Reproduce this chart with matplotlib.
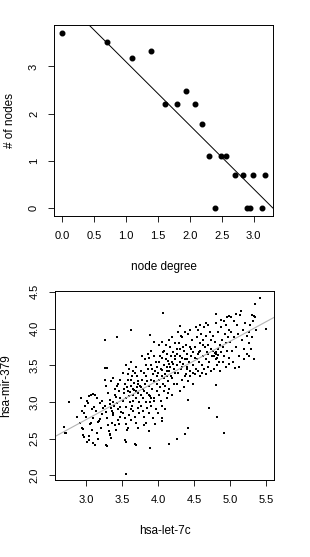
import numpy as np
import matplotlib
matplotlib.use('Agg')
import matplotlib.pyplot as plt

plt.rcParams['font.family'] = ['Liberation Sans', 'DejaVu Sans']

# ---- top panel: degree distribution (log-log, natural log) ----
node_degree = [1, 2, 3, 4, 5, 6, 7, 8, 9, 10, 11, 12, 13, 15, 17, 18, 19, 20, 23, 24]
node_count = [41, 34, 24, 28, 9, 9, 12, 9, 6, 3, 1, 3, 3, 2, 2, 1, 1, 2, 1, 2]

# ---- bottom panel: expression of hsa-let-7c vs hsa-mir-379 ----
let7c = [
    2.70, 2.72, 2.76, 2.87, 2.93, 2.96, 2.95, 2.98, 2.97, 2.99, 2.92,
    3.01, 3.03, 3.05, 3.07, 3.10, 3.12, 3.02, 3.04, 3.06, 3.09, 3.11, 3.14, 3.16, 3.18, 3.20, 3.22,
    3.00, 3.13, 3.05, 3.08, 3.15, 3.19, 3.23, 3.24, 3.21, 3.17, 3.10,
    3.27, 3.28, 3.30, 3.31, 3.33, 3.34, 3.35, 3.36, 3.37, 3.38, 3.39, 3.40, 3.41, 3.42, 3.43, 3.44,
    3.45, 3.46, 3.47, 3.48, 3.49, 3.29, 3.32, 3.34, 3.36, 3.38, 3.40, 3.42, 3.44, 3.46, 3.48, 3.30,
    3.33, 3.35, 3.38, 3.43, 3.47, 3.26, 3.28, 3.31,
    3.51, 3.52, 3.53, 3.54, 3.55, 3.56, 3.57, 3.58, 3.59, 3.60, 3.61, 3.62, 3.63, 3.64, 3.65, 3.66,
    3.67, 3.68, 3.69, 3.70, 3.71, 3.72, 3.73, 3.74, 3.52, 3.54, 3.56, 3.58, 3.60, 3.62, 3.64, 3.66,
    3.68, 3.70, 3.72, 3.74, 3.55, 3.60, 3.65, 3.70, 3.55, 3.57, 3.69, 3.72, 3.63, 3.58, 3.62, 3.66,
    3.71, 3.73, 3.53, 3.61, 3.67, 3.75,
    3.76, 3.77, 3.78, 3.79, 3.80, 3.81, 3.82, 3.83, 3.84, 3.85, 3.86, 3.87, 3.88, 3.89, 3.90, 3.91,
    3.92, 3.93, 3.94, 3.95, 3.96, 3.97, 3.98, 3.99, 3.77, 3.79, 3.81, 3.83, 3.85, 3.87, 3.89, 3.91,
    3.93, 3.95, 3.97, 3.78, 3.82, 3.86, 3.90, 3.94, 3.98, 3.80, 3.88, 3.96, 3.84, 3.92, 3.76, 3.99,
    3.79, 3.87, 3.91, 3.85,
    4.00, 4.01, 4.02, 4.03, 4.04, 4.05, 4.06, 4.07, 4.08, 4.09, 4.10, 4.11, 4.12, 4.13, 4.14, 4.15,
    4.16, 4.17, 4.18, 4.19, 4.20, 4.21, 4.22, 4.23, 4.24, 4.02, 4.04, 4.06, 4.08, 4.10, 4.12, 4.14,
    4.16, 4.18, 4.20, 4.22, 4.24, 4.01, 4.05, 4.11, 4.15, 4.19, 4.03, 4.07, 4.13, 4.17, 4.21, 4.09,
    4.23, 4.00, 4.05, 4.10, 4.06, 4.14, 4.12,
    4.26, 4.27, 4.28, 4.29, 4.30, 4.31, 4.32, 4.33, 4.34, 4.35, 4.36, 4.37, 4.38, 4.39, 4.40, 4.41,
    4.42, 4.43, 4.44, 4.45, 4.46, 4.47, 4.48, 4.49, 4.27, 4.30, 4.33, 4.36, 4.39, 4.42, 4.45, 4.48,
    4.28, 4.32, 4.38, 4.44, 4.31, 4.35, 4.40, 4.46, 4.26, 4.49, 4.34, 4.41,
    4.51, 4.52, 4.53, 4.54, 4.55, 4.56, 4.57, 4.58, 4.59, 4.60, 4.61, 4.62, 4.63, 4.64, 4.65, 4.66,
    4.67, 4.68, 4.69, 4.70, 4.71, 4.72, 4.73, 4.74, 4.52, 4.55, 4.58, 4.61, 4.64, 4.67, 4.70, 4.73,
    4.53, 4.59, 4.66, 4.57, 4.63, 4.69, 4.54, 4.75,
    4.76, 4.77, 4.78, 4.79, 4.80, 4.81, 4.82, 4.83, 4.84, 4.85, 4.86, 4.87, 4.88, 4.89, 4.90, 4.91,
    4.92, 4.93, 4.94, 4.95, 4.96, 4.97, 4.98, 4.99, 4.78, 4.82, 4.86, 4.90, 4.94, 4.98, 4.80, 4.88,
    4.96, 4.81, 4.83, 4.79,
    5.00, 5.02, 5.03, 5.05, 5.06, 5.08, 5.10, 5.11, 5.13, 5.14, 5.16, 5.18, 5.19, 5.21, 5.23, 5.24,
    5.04, 5.12, 5.20, 5.01, 5.09, 5.07,
    5.26, 5.27, 5.28, 5.29, 5.30, 5.32, 5.33, 5.34, 5.36, 5.27, 5.31,
    5.41, 5.34, 4.07, 4.81, 5.15, 5.33, 4.98, 5.50, 3.62, 3.43, 3.27, 3.89, 3.94, 4.31,
    2.76, 2.69, 2.71, 2.87, 3.55, 3.89, 3.68, 4.16, 4.26, 4.38, 4.42, 4.42, 4.71, 4.82, 4.91, 4.81,
    4.05, 3.54, 3.27, 3.10, 3.02, 2.96, 3.28, 3.32, 3.35, 3.15, 2.94, 3.07, 3.17,
]
mir379 = [
    2.66, 2.58, 3.00, 2.80, 3.06, 2.63, 2.88, 2.85, 2.52, 2.95, 2.72,
    3.02, 2.98, 3.08, 3.10, 3.11, 3.09, 2.45, 2.48, 2.70, 2.90, 2.93, 2.88, 2.58, 2.74, 2.77, 2.83,
    2.80, 2.41, 2.53, 2.62, 3.05, 2.98, 3.02, 2.92, 2.65, 2.50, 2.78,
    3.30, 3.22, 3.46, 3.12, 3.03, 2.97, 2.92, 2.88, 2.85, 3.00, 2.95, 3.10, 3.18, 3.07, 2.99, 2.90,
    3.25, 3.15, 3.05, 2.93, 2.87, 2.78, 2.60, 2.57, 2.72, 2.82, 2.68, 2.62, 2.75, 2.70, 2.80, 2.40,
    2.55, 3.28, 3.33, 3.22, 3.30, 2.95, 2.86, 2.68,
    3.40, 3.02, 3.12, 3.25, 2.93, 3.05, 3.20, 3.30, 3.15, 3.08, 3.00, 2.90, 3.22, 3.35, 3.18, 3.10,
    3.26, 3.40, 3.05, 3.15, 3.20, 3.28, 3.12, 3.00, 2.85, 2.78, 2.70, 2.65, 2.82, 2.75, 2.95, 2.88,
    2.80, 2.72, 2.92, 2.85, 3.50, 3.45, 3.42, 3.48, 2.45, 2.62, 2.42, 2.65, 3.55, 3.38, 3.30, 3.02,
    3.35, 3.25, 3.18, 3.13, 3.16, 3.22,
    3.10, 3.20, 3.30, 3.05, 3.15, 3.40, 3.25, 3.00, 3.35, 3.12, 3.45, 3.60, 3.22, 3.08, 3.30, 3.50,
    3.18, 3.38, 3.02, 3.28, 3.42, 3.55, 3.15, 3.35, 2.95, 2.88, 2.80, 2.72, 2.92, 2.85, 3.00, 2.95,
    2.78, 3.05, 2.90, 3.62, 3.58, 3.65, 3.70, 3.62, 3.48, 2.68, 2.60, 2.70, 3.50, 3.45, 3.42, 3.25,
    3.18, 3.10, 3.06, 3.28,
    3.40, 3.30, 3.55, 3.20, 3.45, 3.35, 3.60, 3.25, 3.50, 3.70, 3.38, 3.58, 3.48, 3.65, 3.28, 3.52,
    3.42, 3.75, 3.62, 3.55, 3.32, 3.68, 3.45, 3.80, 3.58, 3.10, 3.02, 2.95, 3.15, 3.22, 3.05, 3.12,
    3.18, 3.35, 3.10, 3.25, 3.40, 3.78, 3.82, 3.78, 3.85, 3.88, 3.62, 3.68, 3.42, 3.48, 3.52, 3.32,
    3.62, 2.85, 2.78, 2.90, 3.44, 3.56, 3.36,
    3.50, 3.65, 3.40, 3.80, 3.55, 3.72, 3.45, 3.60, 3.88, 3.52, 3.70, 3.35, 3.58, 3.78, 3.48, 3.65,
    3.92, 3.55, 3.75, 3.42, 3.62, 3.85, 3.50, 3.68, 3.25, 3.15, 3.30, 3.20, 3.38, 3.28, 3.35, 3.25,
    3.95, 3.90, 3.95, 3.98, 3.62, 3.75, 3.58, 3.72, 3.72, 3.40, 3.48, 3.45,
    3.60, 3.75, 3.45, 3.88, 3.65, 3.98, 3.55, 3.80, 3.70, 3.92, 3.50, 3.85, 3.62, 4.02, 3.75, 3.58,
    3.90, 3.68, 4.05, 3.78, 3.55, 3.95, 3.72, 3.85, 3.38, 3.42, 3.35, 3.40, 3.45, 3.38, 3.48, 3.42,
    4.02, 4.05, 4.08, 3.68, 3.78, 3.65, 3.58, 3.62,
    3.70, 3.90, 3.62, 3.82, 3.65, 3.68, 3.60, 3.72, 3.95, 3.55, 3.78, 4.02, 3.68, 3.85, 3.75, 4.10,
    3.62, 3.92, 3.80, 4.05, 3.70, 3.88, 3.60, 3.98, 3.45, 3.50, 3.42, 3.55, 3.48, 3.52, 4.08, 4.12,
    4.15, 3.58, 3.64, 3.66,
    3.82, 3.95, 3.70, 4.10, 3.88, 3.75, 4.05, 3.92, 3.62, 4.18, 3.85, 3.98, 3.72, 4.08, 3.90, 3.65,
    3.55, 3.48, 3.58, 4.15, 4.20, 3.46,
    3.80, 3.95, 4.05, 3.72, 3.88, 4.10, 3.58, 4.15, 3.98, 3.62, 4.18,
    4.42, 4.33, 4.21, 4.20, 4.24, 4.17, 4.17, 3.99, 3.98, 3.88, 3.84, 3.91, 3.81, 4.03,
    3.00, 2.66, 2.58, 2.80, 2.02, 2.38, 2.43, 2.43, 2.49, 2.56, 2.64, 3.03, 2.92, 2.79, 2.58, 3.23,
    2.74, 2.48, 3.46, 2.44, 2.46, 2.55, 2.41, 2.61, 2.51, 2.58, 2.64, 2.71, 2.73,
]

fig = plt.figure(figsize=(3.10, 5.57), dpi=100)

ax1 = fig.add_axes([0.175, 0.613, 0.705, 0.342])
ax2 = fig.add_axes([0.178, 0.138, 0.706, 0.340])

for ax in (ax1, ax2):
    for sp in ax.spines.values():
        sp.set_linewidth(0.7)
    ax.tick_params(length=4, width=0.6, labelsize=8, pad=7)
    ax.tick_params(axis='y', labelrotation=90)
    for lab in ax.get_yticklabels():
        lab.set_va('center')

lx = np.log(node_degree)
ly = np.log(node_count)
ax1.plot(lx, ly, 'o', color='black', ms=3.3, mec='black')
b1, a1 = np.polyfit(lx, ly, 1)
ax1.axline((0, a1), slope=b1, color='black', lw=0.7)
ax1.set_xlim(-0.126, 3.30)
ax1.set_ylim(-0.156, 3.875)
ax1.set_xticks(np.arange(0, 3.01, 0.5))
ax1.set_xticklabels(['%.1f' % v for v in np.arange(0, 3.01, 0.5)])
ax1.set_yticks([0, 1, 2, 3])
ax1.set_yticklabels(['0', '1', '2', '3'], va='center')
ax1.set_xlabel('node degree', fontsize=8.5, va='center')
ax1.set_ylabel('# of nodes', fontsize=8.5, va='center')
ax1.xaxis.set_label_coords(0.5, -51 / 190.7)
ax1.yaxis.set_label_coords(-44 / 218.4, 0.5)

ax2.plot(let7c, mir379, 's', color='black', ms=1.5, mew=0)
b2, a2 = np.polyfit(let7c, mir379, 1)
ax2.axline((0, a2), slope=b2, color='#b4b4b4', lw=0.8)
ax2.set_xlim(2.574, 5.611)
ax2.set_ylim(1.936, 4.514)
ax2.set_xticks(np.arange(3.0, 5.51, 0.5))
ax2.set_xticklabels(['%.1f' % v for v in np.arange(3.0, 5.51, 0.5)])
ax2.set_yticks(np.arange(2.0, 4.51, 0.5))
ax2.set_yticklabels(['%.1f' % v for v in np.arange(2.0, 4.51, 0.5)], va='center')
ax2.set_xlabel('hsa-let-7c', fontsize=8.5, va='center')
ax2.set_ylabel('hsa-mir-379', fontsize=8.5, va='center')
ax2.xaxis.set_label_coords(0.5, -50.7 / 189)
ax2.yaxis.set_label_coords(-48.6 / 218.7, 0.5)

fig.savefig('out.png', dpi=100)
